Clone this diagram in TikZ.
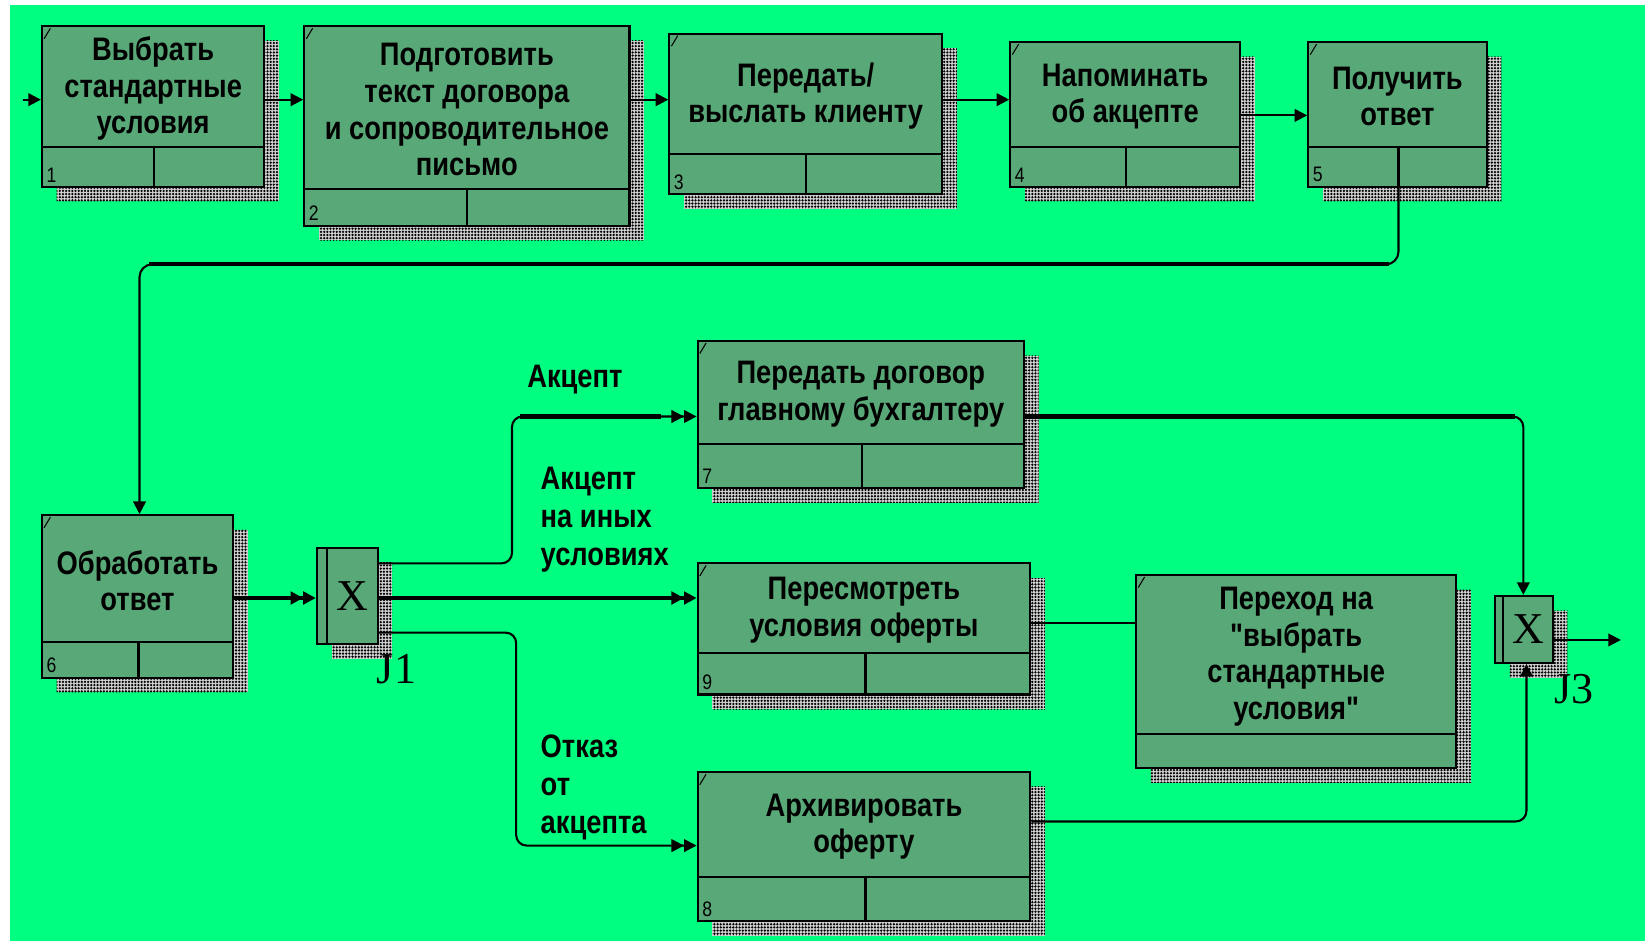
\documentclass[tikz,border=0pt]{standalone}
\usepackage{fontspec}
\setmainfont{Liberation Sans}[FakeStretch=0.84, Ligatures=TeXOff]
\newfontfamily\serifj{Liberation Serif}
\usetikzlibrary{arrows.meta,patterns.meta,fit}
\definecolor{bggreen}{RGB}{0,255,128}
\definecolor{boxgreen}{RGB}{88,168,120}
\tikzset{
  procbox/.style={draw=black, line width=1pt, fill=boxgreen, inner sep=0pt},
  shad/.style={pattern={Dots[distance=1.5pt,radius=0.6pt]}, pattern color=black},
  btext/.style={font=\bfseries\fontsize{15.5}{17.5}\selectfont, align=center, inner sep=0pt},
  numtext/.style={font=\fontsize{10}{12}\selectfont, anchor=south west, inner sep=0pt},
  lbltext/.style={font=\bfseries\fontsize{15.5}{18}\selectfont, align=left, inner sep=0pt},
  jtext/.style={font=\serifj\fontsize{21}{24}\selectfont, inner sep=0pt},
  thinconn/.style={line width=1pt},
  heavyconn/.style={line width=2pt},
  arrowone/.style={-{Triangle[length=6pt,width=6pt]}},
  arrowtwo/.style={-{Triangle[length=6pt,width=6pt]Triangle[length=6pt,width=6pt]}}
}
% name, x1, y1, x2, y2, ydiv, xdiv, number, text
\newcommand\procbox[9]{%
  \fill[gray!35] (#2+14,#3+14) rectangle (#4+14,#5+14);
  \fill[shad] (#2+14,#3+14) rectangle (#4+14,#5+14);
  \node[procbox, fit={(#2,#3) (#4,#5)}] (#1) {};
  \draw[line width=1pt] (#2,#6) -- (#4,#6);
  \if\relax\detokenize{#7}\relax\else\draw[line width=1pt] (#7,#6) -- (#7,#5);\fi
  \draw[line width=0.5pt] (#2+2,#3+12) -- (#2+8,#3+2);
  \node[btext] (#1-t) at ({(#2+#4)/2},{(#3+#6)/2+2}) {#9};
  \node[numtext] (#1-n) at (#2+4,#5-4) {#8};
}
% name, x1, y1, x2, y2, xinner
\newcommand\junction[6]{%
  \fill[gray!35] (#2+14,#3+14) rectangle (#4+14,#5+14);
  \fill[shad] (#2+14,#3+14) rectangle (#4+14,#5+14);
  \node[procbox, fit={(#2,#3) (#4,#5)}] (#1) {};
  \draw[line width=1pt] (#6,#3) -- (#6,#5);
  \node[jtext] (#1-x) at ({(#6+#4)/2},{(#3+#5)/2}) {X};
}
\begin{document}
\begin{tikzpicture}[x=0.5pt,y=-0.5pt]
\useasboundingbox (0,0) rectangle (1568,899);
\fill[white] (0,0) rectangle (1568,899);
\fill[bggreen] (10,5) rectangle (1568,897);

\procbox{b1}{40}{25}{252}{178}{140}{147}{1}{Выбрать\\стандартные\\условия}
\procbox{b2}{290}{25}{600}{215}{180}{445}{2}{Подготовить\\текст договора\\и сопроводительное\\письмо}
\procbox{b3}{638}{32}{898}{185}{147}{768}{3}{Передать/\\выслать клиенту}
\procbox{b4}{963}{40}{1182}{178}{140}{1073}{4}{Напоминать\\об акцепте}
\procbox{b5}{1247}{40}{1417}{178}{140}{1333}{5}{Получить\\ответ}
\procbox{b7}{665}{325}{976}{465}{423}{822}{7}{Передать договор\\главному бухгалтеру}
\procbox{b6}{40}{491}{222}{646}{612}{132}{6}{Обработать\\ответ}
\procbox{b9}{665}{537}{982}{662}{622}{825}{9}{Пересмотреть\\условия оферты}
\procbox{bp}{1083}{548}{1388}{732}{700}{}{}{Переход на\\"выбрать\\стандартные\\условия"}
\procbox{b8}{665}{736}{982}{878}{836}{825}{8}{Архивировать\\оферту}
\junction{j1}{302}{522}{360}{614}{312}
\junction{j3}{1425}{568}{1480}{632}{1433}
\node[jtext] (j1-l) at (378,638) {J1};
\node[jtext] (j3-l) at (1500,657) {J3};

% labels
\node[lbltext] (l-acc) at (548,362) {Акцепт};
\node[lbltext, anchor=north west] (l-other) at (515,445) {Акцепт\\на иных\\условиях};
\node[lbltext, anchor=north west] (l-rej) at (515,700) {Отказ\\от\\акцепта};

% connectors, top row
\coordinate (in1) at (22,95);
\draw[thinconn, arrowone] (in1) -- (b1.west |- 0,95);
\draw[thinconn, arrowone] (b1.east |- 0,95) -- (b2.west |- 0,95);
\draw[thinconn, arrowone] (b2.east |- 0,95) -- (b3.west |- 0,95);
\draw[thinconn, arrowone] (b3.east |- 0,95) -- (b4.west |- 0,95);
\draw[thinconn, arrowone] (b4.east |- 0,110) -- (b5.west |- 0,110);
\draw[thinconn, arrowone, rounded corners=6pt] (b5.south -| 1333,0) -- (1333,252) -- (133,252) -- (b6.north -| 133,0);
\draw[heavyconn] (1324,252) -- (142,252);

% middle
\draw[heavyconn, arrowtwo] (b6.east |- 0,570) -- (j1.west |- 0,570);
\draw[heavyconn, arrowtwo] (j1.east |- 0,570) -- (b9.west |- 0,570);
\draw[thinconn, arrowtwo, rounded corners=5pt] (j1.east |- 0,537) -- (488,537) -- (488,397) -- (b7.west |- 0,397);
\draw[heavyconn] (496,397) -- (630,397);
\draw[thinconn, arrowtwo, rounded corners=5pt] (j1.east |- 0,603) -- (492,603) -- (492,806) -- (b8.west |- 0,806);
\draw[thinconn, arrowone, rounded corners=5pt] (b7.east |- 0,397) -- (1452,397) -- (j3.north -| 1452,0);
\draw[heavyconn] (b7.east |- 0,397) -- (1444,397);
\draw[thinconn] (b9.east |- 0,594) -- (bp.west |- 0,594);
\draw[thinconn, arrowone, rounded corners=5pt] (b8.east |- 0,783) -- (1455,783) -- (j3.south -| 1455,0);
\coordinate (out3) at (1545,610);
\draw[thinconn, arrowone] (j3.east |- 0,610) -- (out3);
\end{tikzpicture}
\end{document}
